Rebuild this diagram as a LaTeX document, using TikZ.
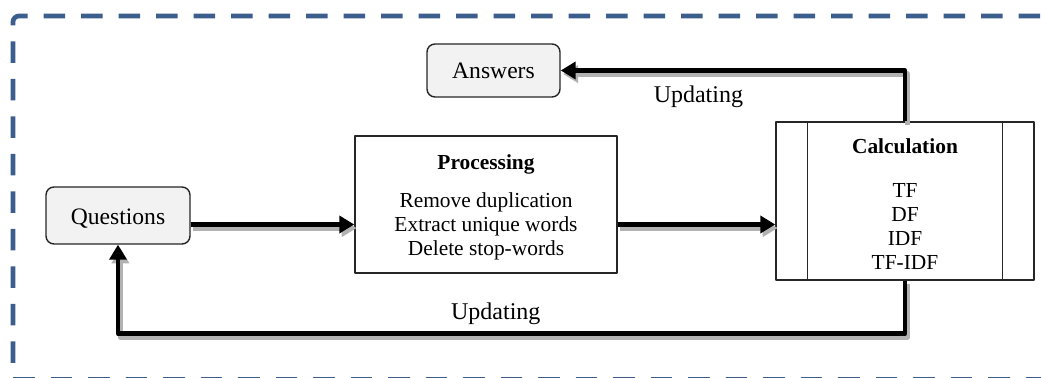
\documentclass[tikz,border=0pt]{standalone}
\usepackage{fontspec}
\setmainfont{Liberation Serif}
\usetikzlibrary{arrows.meta,calc}
\definecolor{frameblue}{RGB}{59,94,140}
\definecolor{termgray}{RGB}{242,242,242}
\begin{document}
\begin{tikzpicture}[x=0.5pt, y=-0.5pt, line join=round,
	frame/.style={draw=frameblue, line width=2.35pt, rounded corners=3pt, dash pattern=on 10.75pt off 8pt},
	term/.style={draw=black!85, line width=0.7pt, fill=termgray, rounded corners=4pt, inner sep=0pt, font=\fontsize{11.8}{14}\selectfont},
	stepbox/.style={draw=black!85, line width=0.7pt, fill=white, inner sep=0pt, align=center, font=\fontsize{10.7}{12}\selectfont},
	flow/.style={line width=2.25pt, -{Triangle[length=7.5pt,width=8.5pt]},
		preaction={draw=black!30, line width=2.6pt, transform canvas={shift={(1.2pt,-1.8pt)}}}},
	lbl/.style={inner sep=0pt, font=\fontsize{12}{14}\selectfont}]
	\useasboundingbox (0,0) rectangle (1041,378);
	\clip (0,0) rectangle (1041,378);
	% dashed frame
	\draw[frame, dash phase=10.75pt] (13,379) -- (13,16) -- (1060,16);
	\draw[frame] (13,379) -- (1060,379);
	% nodes
	\node[term, minimum width=72pt, minimum height=28.5pt] (quest) at (118,215.5) {\rule{0pt}{11pt}Questions};
	\node[term, minimum width=66.5pt, minimum height=26.5pt] (answ) at (493.5,70.5) {Answers};
	\node[stepbox, minimum width=131pt, minimum height=68.5pt] (proc) at (486,204.5)
		{\rule{0pt}{10.5pt}\textbf{Processing}\\[7pt] Remove duplication\\ Extract unique words\\ Delete stop-words};
	\node[stepbox, minimum width=129pt, minimum height=79pt] (calcu) at (905,201)
		{\rule{0pt}{10.5pt}\textbf{Calculation}\\[10pt] TF\\ DF\\ IDF\\ TF-IDF};
	\draw[line width=0.7pt, black!85] ($(calcu.north west)+(32,0)$) -- ($(calcu.south west)+(32,0)$)
		($(calcu.north east)+(-32,0)$) -- ($(calcu.south east)+(-32,0)$);
	% arrows
	\draw[flow] ([yshift=-4.5pt]quest.east) -- ([yshift=-10pt]proc.west);
	\draw[flow] ([yshift=-10pt]proc.east) -- ([yshift=-11.75pt]calcu.west);
	\draw[flow] (calcu.north) |- node[lbl, pos=0.8, yshift=-13pt] {Updating} (answ.east);
	\draw[flow] (calcu.south) -- ++(0,53) -| node[lbl, pos=0.26, yshift=10pt] {Updating} (quest.south);
\end{tikzpicture}
\end{document}
